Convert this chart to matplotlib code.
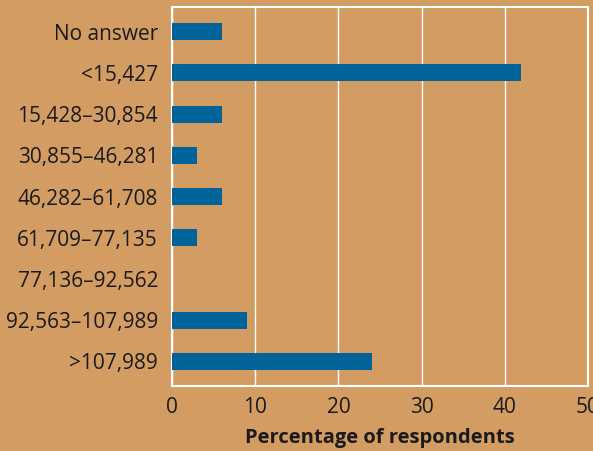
import matplotlib.pyplot as plt

plt.rcParams['font.family'] = ['Open Sans', 'DejaVu Sans']

categories = ['No answer', '<15,427', '15,428–30,854', '30,855–46,281',
              '46,282–61,708', '61,709–77,135', '77,136–92,562',
              '92,563–107,989', '>107,989']
percentages = [6, 42, 6, 3, 6, 3, 0, 9, 24]

bg = '#D39C63'
bar_color = '#00649A'
text_color = '#1a1a1a'

fig = plt.figure(figsize=(5.93, 4.51), dpi=100, facecolor=bg)
ax = fig.add_axes([0.290, 0.1441, 0.7016, 0.8404])
ax.set_facecolor(bg)

ypos = list(range(len(categories)))
ax.barh(ypos, percentages, height=0.41, color=bar_color,
        edgecolor='none', zorder=3)

ax.set_yticks(ypos)
ax.set_yticklabels(categories)
ax.set_ylim(8.6, -0.6)
ax.set_xlim(0, 50)
ax.set_xticks([0, 10, 20, 30, 40, 50])

ax.grid(axis='x', color='white', linewidth=1.0, zorder=1)
for s in ax.spines.values():
    s.set_color('white')
    s.set_linewidth(1.5)

ax.tick_params(axis='both', length=0, labelsize=15, colors=text_color)
ax.tick_params(axis='y', pad=10)
ax.tick_params(axis='x', pad=8)
ax.set_xlabel('Percentage of respondents', fontsize=14.5, fontweight='bold',
              color=text_color, labelpad=7)

fig.savefig('out.png', dpi=100, facecolor=bg)
